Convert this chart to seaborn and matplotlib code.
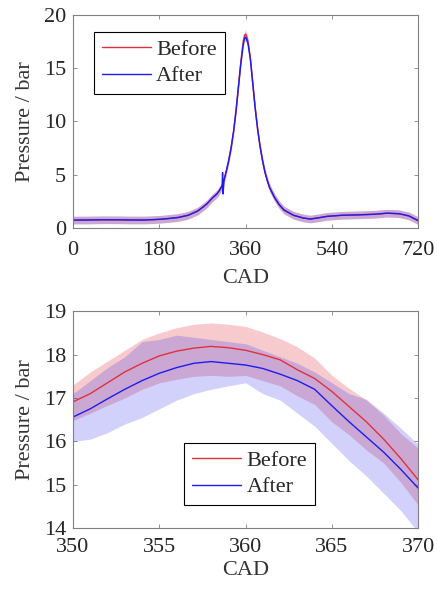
import pandas as pd
import seaborn as sns
import matplotlib.pyplot as plt

# ---- full cycle (top panel) ----
cad_full = [0, 30, 60, 90, 120, 150, 180, 200, 220, 240, 260, 272, 280, 290, 300, 305, 310,
            311, 312, 313, 315, 320, 325, 330, 335, 340, 345, 350, 355, 358, 360, 362, 365,
            370, 375, 380, 385, 390, 395, 400, 405, 410, 420, 430, 440, 460, 480, 495, 510,
            530, 560, 600, 630, 655, 680, 700, 720]
before_full = [0.75, 0.76, 0.78, 0.78, 0.76, 0.76, 0.82, 0.9, 1.0, 1.2, 1.6, 2.0, 2.3, 2.8, 3.2, 3.5, 3.9,
               4.0, 4.1, 4.2, 4.5, 5.4, 6.4, 7.6, 9.1, 11.0, 13.3, 15.6, 17.5, 18.1, 18.2, 18.0, 17.5,
               15.9, 13.6, 11.3, 9.3, 7.7, 6.4, 5.3, 4.5, 3.8, 2.9, 2.2, 1.7, 1.2, 0.95, 0.85, 0.95,
               1.1, 1.2, 1.25, 1.3, 1.4, 1.35, 1.15, 0.7]
after_full = [0.75, 0.76, 0.78, 0.78, 0.76, 0.76, 0.82, 0.9, 1.0, 1.2, 1.6, 2.0, 2.3, 2.8, 3.2, 3.5, 3.9,
              4.0, 5.2, 3.2, 4.5, 5.4, 6.4, 7.6, 9.1, 11.0, 13.2, 15.4, 17.2, 17.85, 17.9, 17.7, 17.3,
              15.8, 13.5, 11.2, 9.3, 7.7, 6.4, 5.3, 4.5, 3.8, 2.9, 2.2, 1.7, 1.2, 0.95, 0.85, 0.95,
              1.1, 1.2, 1.25, 1.3, 1.4, 1.35, 1.15, 0.7]
band_full = 0.36

# ---- zoom near TDC (bottom panel) ----
cad_zoom = [350, 351, 352, 353, 354, 355, 356, 357, 358, 359, 360,
            361, 362, 363, 364, 365, 366, 367, 368, 369, 370]
before_mean = [16.91, 17.1, 17.35, 17.6, 17.8, 17.97, 18.08, 18.15, 18.19, 18.16, 18.1,
               18.0, 17.88, 17.65, 17.45, 17.15, 16.8, 16.45, 16.05, 15.6, 15.11]
before_hi = [17.3, 17.6, 17.85, 18.1, 18.35, 18.5, 18.62, 18.7, 18.73, 18.7, 18.65,
             18.52, 18.37, 18.18, 17.92, 17.52, 17.22, 16.95, 16.6, 16.18, 15.84]
before_lo = [16.48, 16.65, 16.83, 17.0, 17.2, 17.35, 17.43, 17.5, 17.52, 17.5, 17.52,
             17.4, 17.28, 17.05, 16.85, 16.45, 16.15, 15.8, 15.5, 15.05, 14.53]
after_mean = [16.56, 16.75, 16.98, 17.2, 17.4, 17.57, 17.7, 17.8, 17.84, 17.8, 17.76,
              17.68, 17.55, 17.4, 17.2, 16.82, 16.45, 16.1, 15.75, 15.35, 14.92]
after_hi = [17.1, 17.4, 17.7, 17.95, 18.3, 18.35, 18.45, 18.4, 18.35, 18.3, 18.25,
            18.1, 17.95, 17.8, 17.6, 17.35, 17.1, 16.97, 16.65, 16.3, 15.93]
after_lo = [16.0, 16.05, 16.2, 16.4, 16.55, 16.75, 16.95, 17.1, 17.2, 17.28, 17.35,
            17.1, 16.95, 16.65, 16.35, 15.95, 15.55, 15.2, 14.8, 14.4, 13.9]

red = '#e0303c'
blue = '#1c1cf0'

sns.set_style('ticks')
plt.rcParams['font.family'] = ['Liberation Serif', 'DejaVu Serif']
plt.rcParams['font.size'] = 16

full = pd.DataFrame({'CAD': cad_full, 'Before': before_full, 'After': after_full})
zoom = pd.DataFrame({'CAD': cad_zoom, 'Before': before_mean, 'After': after_mean,
                     'b_hi': before_hi, 'b_lo': before_lo, 'a_hi': after_hi, 'a_lo': after_lo})

fig = plt.figure(figsize=(4.37, 5.94), dpi=100)
ax1 = fig.add_axes([0.167, 0.616, 0.790, 0.359])
ax2 = fig.add_axes([0.167, 0.111, 0.790, 0.365])

# top panel
ax1.fill_between(full['CAD'], full['Before'] - band_full, full['Before'] + band_full,
                 color=red, alpha=0.25, lw=0)
ax1.fill_between(full['CAD'], full['After'] - band_full, full['After'] + band_full,
                 color=blue, alpha=0.2, lw=0)
sns.lineplot(data=full, x='CAD', y='Before', ax=ax1, color=red, lw=1, label='Before')
sns.lineplot(data=full, x='CAD', y='After', ax=ax1, color=blue, lw=1, label='After')
ax1.set_xlim(0, 720)
ax1.set_ylim(0, 20)
ax1.set_xticks([0, 180, 360, 540, 720])
ax1.set_yticks([0, 5, 10, 15, 20])

# bottom panel
ax2.fill_between(zoom['CAD'], zoom['b_lo'], zoom['b_hi'], color=red, alpha=0.25, lw=0)
ax2.fill_between(zoom['CAD'], zoom['a_lo'], zoom['a_hi'], color=blue, alpha=0.2, lw=0)
sns.lineplot(data=zoom, x='CAD', y='Before', ax=ax2, color=red, lw=1, label='Before')
sns.lineplot(data=zoom, x='CAD', y='After', ax=ax2, color=blue, lw=1, label='After')
ax2.set_xlim(350, 370)
ax2.set_ylim(14, 19)
ax2.set_xticks([350, 355, 360, 365, 370])
ax2.set_yticks([14, 15, 16, 17, 18, 19])

for ax, xpad, lpad in ((ax1, 9, 7), (ax2, 7, 3)):
    ax.set_xlabel('CAD', color='#333333', labelpad=lpad)
    ax.set_ylabel('Pressure / bar', color='#333333', labelpad=6)
    ax.tick_params(direction='in', length=3, width=0.6, top=True, right=True,
                   colors='#808080', labelcolor='#262626', labelsize=16, pad=5)
    ax.tick_params(axis='x', pad=xpad)
    for s in ax.spines.values():
        s.set_visible(True)
        s.set_color('#808080')
        s.set_linewidth(0.8)

leg1 = ax1.legend(loc='upper left', bbox_to_anchor=(0.061, 0.92), fancybox=False,
                  edgecolor='black', framealpha=1, handlelength=2.2, borderpad=0.35,
                  labelspacing=0.25, handletextpad=0.25, borderaxespad=0, fontsize=16)
leg1.get_frame().set_linewidth(0.8)
leg2 = ax2.legend(loc='lower left', bbox_to_anchor=(0.322, 0.106), fancybox=False,
                  edgecolor='black', framealpha=1, handlelength=2.2, borderpad=0.35,
                  labelspacing=0.25, handletextpad=0.25, borderaxespad=0, fontsize=16)
leg2.get_frame().set_linewidth(0.8)

fig.savefig('out.png', dpi=100)
